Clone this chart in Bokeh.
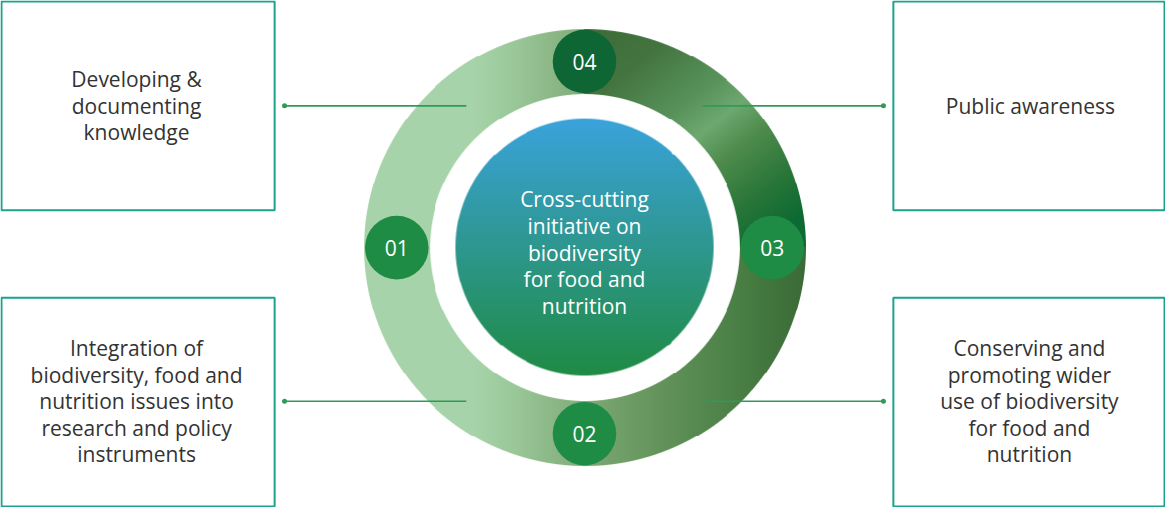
import numpy as np
from bokeh.plotting import figure
from bokeh.models import Range1d
from bokeh.core.properties import value
from bokeh.embed import file_html
from bokeh.resources import INLINE

# ---------------- content ----------------
numbers = ["01", "02", "03", "04"]
number_colors = ["#1e8c45", "#1e8c45", "#1e8c45", "#0d6634"]
number_angles = [180, 270, 0, 90]          # position of each badge on the ring

center_lines = ["Cross-cutting", "initiative on", "biodiversity", "for food and", "nutrition"]
box_tl = ["Developing &", "documenting", "knowledge"]
box_tr = ["Public awareness"]
box_bl = ["Integration of", "biodiversity, food and", "nutrition issues into",
          "research and policy", "instruments"]
box_br = ["Conserving and", "promoting wider", "use of biodiversity",
          "for food and", "nutrition"]

# ---------------- layout (image pixel coordinates) ----------------
W_IMG, H_IMG, M = 1173, 515, 8
CX, CY = 588, 251
R_OUT, R_IN, R_DISK, R_NUM = 222, 156, 130, 32
PITCH = 27
FONT = value("Open Sans")


def Y(yi):
    return H_IMG - yi


def hex2rgb(c):
    return [int(c[i:i + 2], 16) for i in (1, 3, 5)]


def grad(t, stops, cols):
    arr = np.array([hex2rgb(c) for c in cols], float)
    return np.stack([np.interp(t, stops, arr[:, k]) for k in range(3)], axis=-1)


def to_rgba(rgb, alpha):
    n0, n1 = alpha.shape
    img = np.empty((n0, n1), dtype=np.uint32)
    view = img.view(dtype=np.uint8).reshape((n0, n1, 4))
    view[..., :3] = np.clip(rgb, 0, 255).astype(np.uint8)
    view[..., 3] = (np.clip(alpha, 0, 1) * 255).astype(np.uint8)
    return img[::-1]   # row 0 = bottom


p = figure(width=W_IMG - M, height=H_IMG - M, output_backend="svg", toolbar_location=None,
           x_range=Range1d(0, W_IMG), y_range=Range1d(0, H_IMG),
           x_axis_type=None, y_axis_type=None, min_border=0,
           outline_line_color=None, background_fill_color="white", border_fill_color="white")
p.grid.visible = False

# ---------------- ring with gradient ----------------
n = 2 * R_OUT + 4
x0i, y0i = CX - R_OUT - 2, CY - R_OUT - 2
xs = x0i + np.arange(n) + 0.5
ys = y0i + np.arange(n) + 0.5
XX, YY = np.meshgrid(xs, ys)
rr = np.hypot(XX - CX, YY - CY)
alpha = np.clip(R_OUT - rr + 0.5, 0, 1) * np.clip(rr - R_IN + 0.5, 0, 1)

h_stops = [367, 478, 520, 555, 600, 640, 700, 760, 810]
h_cols = ["#a6d3a9", "#a6d3a9", "#9ac798", "#8cb888", "#7aa771", "#6c9a63",
          "#568a50", "#457a41", "#3b6b37"]
rgb = grad(XX, h_stops, h_cols)

d = np.array([115.0, 145.0]); d /= np.hypot(*d)
s = (XX - CX) * d[0] + (YY - (CY - R_OUT)) * d[1]
s_stops = [0, 60, 120, 156, 190, 240, 285]
s_cols = ["#3d6b38", "#447540", "#58925a", "#6da970", "#4f8c4d", "#2a7639", "#0c6a32"]
rgb_d = grad(s, s_stops, s_cols)
mask = (XX > CX) & (YY < CY)
rgb[mask] = rgb_d[mask]
p.image_rgba(image=[to_rgba(rgb, alpha)], x=x0i, y=Y(y0i + n), dw=n, dh=n)

# ---------------- central disk with vertical gradient ----------------
m = 2 * R_DISK + 4
x1i, y1i = CX - R_DISK - 2, CY - R_DISK - 2
xs2 = x1i + np.arange(m) + 0.5
ys2 = y1i + np.arange(m) + 0.5
X2, Y2 = np.meshgrid(xs2, ys2)
r2 = np.hypot(X2 - CX, Y2 - CY)
a2 = np.clip(R_DISK - r2 + 0.5, 0, 1)
rgb2 = grad(Y2, [CY - R_DISK, CY, CY + R_DISK], ["#3aa3dc", "#2e978f", "#1f8b44"])
p.image_rgba(image=[to_rgba(rgb2, a2)], x=x1i, y=Y(y1i + m), dw=m, dh=m)

# ---------------- connector lines ----------------
conn_y = [107, 407]
for yi in conn_y:
    p.segment(x0=286, y0=Y(yi), x1=469, y1=Y(yi), line_color="#2f9a5a", line_width=1.6)
    p.segment(x0=707, y0=Y(yi), x1=889, y1=Y(yi), line_color="#2f9a5a", line_width=1.6)
p.scatter(x=[286, 286, 889, 889], y=[Y(107), Y(407), Y(107), Y(407)], size=5,
          fill_color="#2f9a5a", line_color=None)

# ---------------- number badges ----------------
rmid = (R_OUT + R_IN) / 2
bx = [CX + rmid * np.cos(np.radians(a)) for a in number_angles]
by = [Y(CY - rmid * np.sin(np.radians(a))) for a in number_angles]
p.circle(x=bx, y=by, radius=R_NUM, fill_color=number_colors, line_color=None)
p.text(x=bx, y=by, text=numbers, text_align="center", text_baseline="middle",
       text_color="white", text_font=FONT, text_font_size="21px")

# ---------------- texts ----------------
def block(lines, xc, yc, color):
    k = len(lines)
    yy = [Y(yc + (i - (k - 1) / 2) * PITCH) for i in range(k)]
    p.text(x=[xc] * k, y=yy, text=lines, text_align="center", text_baseline="middle",
           text_color=color, text_font=FONT, text_font_size="21px")


block(center_lines, CX, 256, "white")
block(box_tl, 137, 107, "#333333")
block(box_tr, 1037, 107, "#333333")
block(box_bl, 137, 407, "#333333")
block(box_br, 1036, 407, "#333333")

# ---------------- boxes ----------------
boxes = [(1, 1, 276, 213), (1, 302, 276, 514), (899, 1, 1172, 213), (899, 302, 1172, 514)]
p.quad(left=[b[0] for b in boxes], right=[b[2] for b in boxes],
       top=[Y(b[1]) for b in boxes], bottom=[Y(b[3]) for b in boxes],
       fill_color=None, line_color="#1ba38b", line_width=2)

open("out.html", "w").write(file_html(p, INLINE))
